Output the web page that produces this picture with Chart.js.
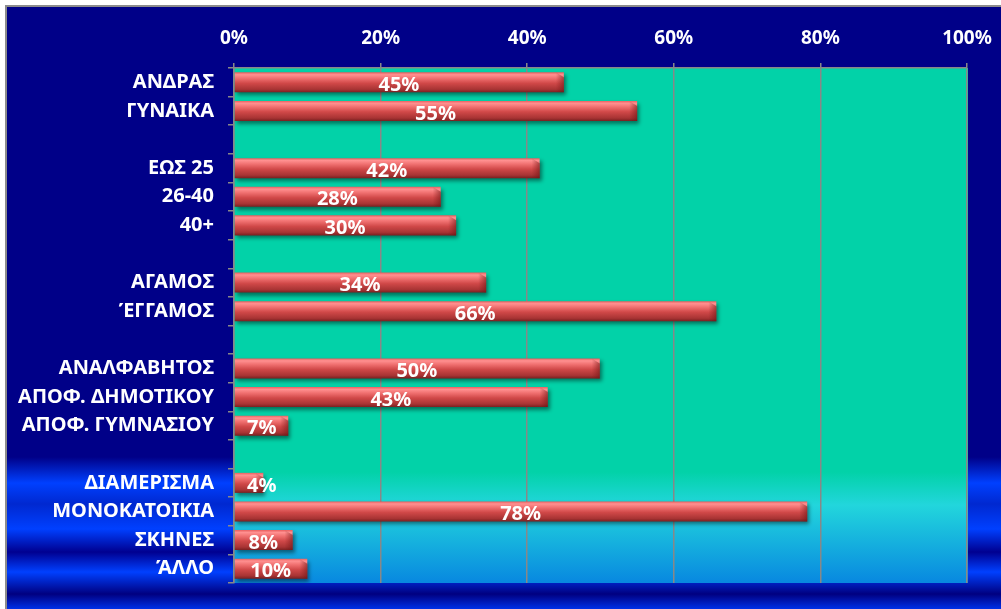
<!DOCTYPE html>
<html>
<head>
<meta charset="utf-8">
<script src="https://cdn.jsdelivr.net/npm/chart.js@4.4.0/dist/chart.umd.min.js"></script>
<style>
html,body{margin:0;padding:0;background:#ffffff;width:1001px;height:609px;overflow:hidden;}
#frame{position:absolute;left:5px;top:5px;width:1001px;height:609px;box-sizing:border-box;
border-left:2px solid #8c8c8c;border-top:2px solid #8c8c8c;
background:linear-gradient(to bottom,#000088 0px,#000088 450px,#0040ff 476px,#0028d0 497px,#0040ff 522px,#000090 545px,#0040ff 565px,#000080 587px,#0030e8 602px);}
#c{position:absolute;left:0;top:0;}
</style>
</head>
<body>
<div id="frame"></div>
<canvas id="c" width="1001" height="609"></canvas>
<script>
const categories = ["ΑΝΔΡΑΣ","ΓΥΝΑΙΚΑ","","ΕΩΣ 25","26-40","40+","","ΑΓΑΜΟΣ","ΈΓΓΑΜΟΣ","","ΑΝΑΛΦΑΒΗΤΟΣ","ΑΠΟΦ. ΔΗΜΟΤΙΚΟΥ","ΑΠΟΦ. ΓΥΜΝΑΣΙΟΥ","","ΔΙΑΜΕΡΙΣΜΑ","ΜΟΝΟΚΑΤΟΙΚΙΑ","ΣΚΗΝΕΣ","ΆΛΛΟ"];
const values = [45,55,null,41.7,28.2,30.3,null,34.4,65.8,null,49.9,42.8,7.4,null,4,78.2,8,10];
const xTicks = [0,20,40,60,80,100];

const FONT = "'Noto Sans', 'DejaVu Sans', sans-serif";

const bgPlugin = {
  id:'bg',
  beforeDraw(chart){
    const {ctx, chartArea:a} = chart;
    const g = ctx.createLinearGradient(0,a.top,0,a.bottom);
    const h = a.bottom - a.top;
    const p = y => Math.min(1,Math.max(0,(y-a.top)/h));
    g.addColorStop(0,'#02d2a8');
    g.addColorStop(p(472),'#02d2a8');
    g.addColorStop(p(505),'#22d6dc');
    g.addColorStop(1,'#0888e0');
    ctx.save();
    ctx.fillStyle = g;
    ctx.fillRect(a.left,a.top,a.right-a.left+1,a.bottom-a.top);
    ctx.restore();
  }
};

const shadowPlugin = {
  id:'shadow',
  beforeDatasetsDraw(chart){
    const ctx = chart.ctx;
    ctx.save();
    ctx.shadowColor = 'rgba(0,0,0,0.45)';
    ctx.shadowOffsetX = 2;
    ctx.shadowOffsetY = 3;
    ctx.shadowBlur = 4;
  },
  afterDatasetsDraw(chart){
    chart.ctx.restore();
    const ctx = chart.ctx;
    const meta = chart.getDatasetMeta(0);
    ctx.save();
    meta.data.forEach((bar,i)=>{
      if(values[i]==null) return;
      const h = bar.height, x = bar.x, y = bar.y - h/2;
      if(!isFinite(x) || !isFinite(y) || !isFinite(h)) return;
      const g = ctx.createLinearGradient(x-8,0,x,0);
      g.addColorStop(0,'rgba(120,20,20,0)');
      g.addColorStop(1,'rgba(110,20,20,0.55)');
      ctx.fillStyle = g;
      ctx.beginPath();
      ctx.moveTo(x-8,y);
      ctx.lineTo(x,y+5);
      ctx.lineTo(x,y+h);
      ctx.lineTo(x-8,y+h);
      ctx.closePath();
      ctx.fill();
    });
    ctx.restore();
  }
};

const labelPlugin = {
  id:'labels',
  afterDatasetsDraw(chart){
    const ctx = chart.ctx;
    const meta = chart.getDatasetMeta(0);
    const left = chart.chartArea.left;
    ctx.save();
    ctx.font = "bold 20px " + FONT;
    ctx.fillStyle = '#ffffff';
    ctx.textAlign = 'center';
    ctx.textBaseline = 'middle';
    meta.data.forEach((bar,i)=>{
      if(values[i]==null) return;
      const txt = Math.round(values[i]) + '%';
      const w = ctx.measureText(txt).width;
      let cx = (left + bar.x)/2;
      cx = Math.max(cx, left + 13 + w/2);
      ctx.fillText(txt, cx, bar.y + 3);
    });
    ctx.restore();
  }
};

function barGradient(context){
  const chart = context.chart;
  const ys = chart.scales.y;
  const fallback = '#d04848';
  if(!ys || context.dataIndex==null) return fallback;
  const y = ys.getPixelForValue(context.dataIndex);
  const th = ys.height/categories.length*0.7;
  if(!isFinite(y) || !isFinite(th) || th<=0) return fallback;
  const g = chart.ctx.createLinearGradient(0,y-th/2,0,y+th/2);
  g.addColorStop(0,'#e86060');
  g.addColorStop(0.12,'#ff9090');
  g.addColorStop(0.3,'#f07070');
  g.addColorStop(0.55,'#d04848');
  g.addColorStop(0.85,'#a83434');
  g.addColorStop(1,'#7a2020');
  return g;
}

new Chart(document.getElementById('c'),{
  type:'bar',
  data:{
    labels:categories,
    datasets:[{
      data:values,
      backgroundColor:barGradient,
      borderWidth:0,
      categoryPercentage:1,
      barPercentage:0.7
    }]
  },
  options:{
    indexAxis:'y',
    responsive:false,
    animation:false,
    layout:{padding:{left:0,right:34,top:0,bottom:26}},
    plugins:{legend:{display:false},tooltip:{enabled:false}},
    scales:{
      x:{
        position:'top',
        min:0,max:100,
        afterBuildTicks(s){ s.ticks = xTicks.map(v=>({value:v})); },
        afterFit(s){ s.height = 68; s.paddingRight = 0; s.paddingLeft = 0; },
        ticks:{color:'#ffffff',font:{family:FONT,weight:'bold',size:19},padding:13,callback:v=>v+'%'},
        grid:{color:'#888888',lineWidth:1.5,tickLength:5,drawTicks:true},
        border:{color:'#888888',width:1.5}
      },
      y:{
        afterFit(s){ s.width = 234; },
        ticks:{color:'#ffffff',font:{family:FONT,weight:'bold',size:20},padding:14,autoSkip:false},
        grid:{offset:true,drawOnChartArea:false,color:'#888888',lineWidth:1.5,tickLength:6},
        border:{color:'#888888',width:1.5}
      }
    }
  },
  plugins:[bgPlugin,shadowPlugin,labelPlugin]
});
</script>
</body>
</html>
